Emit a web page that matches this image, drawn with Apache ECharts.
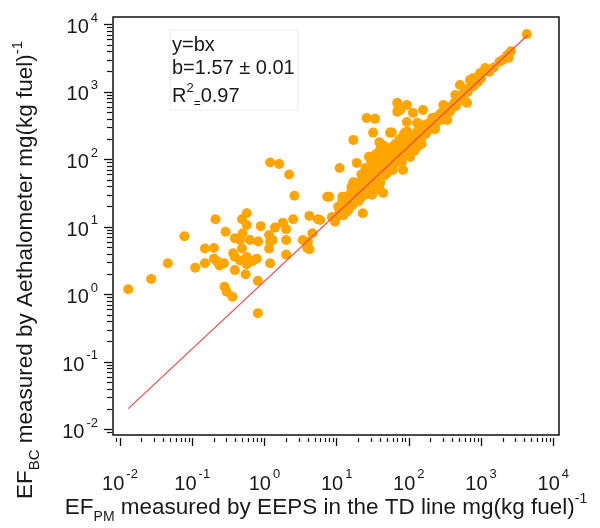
<!DOCTYPE html>
<html><head><meta charset="utf-8">
<script src="https://cdn.jsdelivr.net/npm/echarts@6/dist/echarts.min.js"></script>
<style>html,body{margin:0;padding:0;background:#fff}#c{width:600px;height:528px}</style>
</head><body><div id="c"></div>
<script>
// ---- axis tick labels (decades) ----
const xTickValues = [0.01, 0.1, 1, 10, 100, 1000, 10000];
const yTickValues = [0.01, 0.1, 1, 10, 100, 1000, 10000];
const xRange = [0.0080, 12000];
const yRange = [0.0083, 12900];

// ---- fit line y = b x ----
const fitX = [0.013, 4400];
const fitY = [0.0204, 6908];

// ---- EF_PM (x) vs EF_BC (y) points ----
const pointsLowRange = [
  [0.013,1.2],[0.027,1.7],[0.046,2.9],[0.078,7.3],[0.11,2.5],[0.15,4.8],[0.2,4.9],[0.15,2.9],[0.2,3.4],
  [0.21,13],[0.29,8.5],[0.275,2.9],[0.22,3.1],[0.28,1.3],[0.30,1.1],[0.36,0.93],[0.39,6.8],[0.37,4.1],
  [0.39,2.3],[0.46,3.2],[0.49,4.8],[0.50,8.1],[0.49,13],[0.57,16],[0.57,10.7],[0.55,2.0],[0.57,3.6],
  [0.63,6.4],[0.67,3.1],[0.78,3.4],[0.82,6.1],[0.89,10.3],[0.81,1.6],[0.81,0.53],[1.16,7.6],[1.2,6.1],
  [1.16,4.8],[1.2,2.9],[1.3,6.4],[1.4,9.8],[1.8,11.4],[2.0,9.3],[2.0,6.4],[2.0,3.9],[2.5,13],[2.6,29],
  [2.2,60],[1.6,86],[1.2,90],[0.24,2.7],[0.46,6.4],[0.39,3.6],[0.57,2.8]
];
const pointsMidRange = [
  [1.8,11.5],[4.2,14.6],[5.5,13],[7.4,28],[7.9,28],[4.6,8.1],[4.0,6.0],[4.2,4.7],[8.6,14],[11,16],
  [12,21],[14,17],[14,27],[23,16],[16,39],[19,45],[31,30],[40,35],[44,32],
  [26,410],[34,400],[17,195],[32,250],[55,250],[39,180],[43,138],[19,89],[11,75],[69,690],[69,510],
  [55,138],[29,63],[36,50],[17,46],[72,620],[94,640],[76,540],[114,490],[157,540],[210,410],[94,360],
  [130,350],[58,250],[88,250],[300,640],[370,510],[510,1270],[700,1500],[880,1670],[550,760],[640,690],
  [440,900],[1140,2270],[970,1910],[340,385],[216,300],
  [4300,7200],[2300,3500],[2000,3000],[2400,3200],[1200,2100],[770,1600],
  [76,153],[60,109],[104,109],[130,153],[50,63],[83,70],[26,63],[32,42],[12,25],[15,23],[5.9,12.7],
  [8.9,14],[12,18],[3.4,6.4],[3.9,4.9]
];
const pointsCoreBand = [
  [10,14],[10.5,20],[11,17],[9.5,12],[12,19],[12.5,15],[13,22],[12,28],
  [14,20],[15,25],[14.5,18],[15,30],[17,24],[17,33],[18,28],[16.5,21],
  [20,30],[20,38],[21,26],[19,34],[22,45],[24,35],[24,42],[25,30],[23,50],[26,38],
  [28,40],[28,52],[29,35],[30,47],[27,60],[33,48],[33,60],[34,42],[35,55],[32,70],[34,80],
  [38,55],[38,68],[40,50],[39,62],[37,90],[40,75],[44,65],[44,78],[46,58],[45,90],[43,110],[47,70],
  [50,75],[50,90],[52,68],[51,100],[49,130],[53,85],[55,80],[58,90],[58,105],[60,80],[59,120],[57,150],[62,95],
  [66,100],[66,120],[68,92],[67,140],[65,170],[70,110],[75,115],[75,135],[78,105],[77,160],[80,125],[74,200],
  [85,130],[86,155],[88,120],[87,180],[90,140],[84,230],[97,150],[98,175],[100,135],[99,200],[102,160],[95,260],
  [110,170],[110,200],[113,155],[112,230],[116,185],[125,195],[126,225],[128,180],[130,260],[132,205],
  [145,225],[146,260],[150,210],[148,290],[152,240],[165,255],[168,300],[172,240],[170,330],
  [190,300],[192,340],[196,280],[200,360],[220,340],[225,390],[230,320],[235,420],
  [260,400],[265,450],[270,380],[275,480],[300,470],[310,520],[320,440],[330,560],
  [360,560],[370,600],[380,540],[420,650],[430,700],[450,620],[500,780],[520,820],[540,900],
  [600,950],[650,1000],[620,1100],[750,1200],[800,1250],[900,1400],[1000,1600],
  [1300,2000],[1500,2300],[1800,2800],[2600,4000],
  [40,45],[60,70],[100,120],[150,170],[30,35],[20,24],[80,90],[230,280],[120,135],
  [22,60],[25,75],[30,95],[35,120],[28,110],[40,140],[45,160]
];

const FONT = '"Liberation Sans", Arial, Helvetica, sans-serif';
const TXT = '#1a1a1a';

function minorTicks(majors, range) {
  const out = [];
  for (const d of majors) for (let m = 2; m <= 9; m++) {
    const v = d * m;
    if (v > range[0] && v < range[1]) out.push(v);
  }
  return out;
}
function expLabel(v) { return '{b|10}{s|' + Math.round(Math.log10(v)) + '}'; }
const labelRich = {
  b: { fontSize: 20, fontFamily: FONT, color: TXT, lineHeight: 26, verticalAlign: 'bottom' },
  s: { fontSize: 13, fontFamily: FONT, color: TXT, lineHeight: 26, verticalAlign: 'top', padding: [0, 0, 0, 2] }
};

const chart = echarts.init(document.getElementById('c'), null, { renderer: 'canvas' });
const allPoints = pointsLowRange.concat(pointsMidRange, pointsCoreBand);

chart.setOption({
  animation: false,
  backgroundColor: '#fff',
  grid: { left: 113, right: 41, top: 17, bottom: 93, show: true, borderColor: '#111', borderWidth: 1.5, outerBoundsMode: 'none' },
  xAxis: [
    { type: 'log', min: xRange[0], max: xRange[1], position: 'bottom', offset: 3,
      axisLine: { show: false }, splitLine: { show: false },
      axisTick: { show: true, length: 8, inside: false, customValues: xTickValues, lineStyle: { color: '#111', width: 1.3 } },
      axisLabel: { show: true, customValues: xTickValues, margin: 30, formatter: expLabel, rich: labelRich, showMinLabel: true, showMaxLabel: true } },
    { type: 'log', min: xRange[0], max: xRange[1], position: 'bottom', offset: 3,
      axisLine: { show: false }, splitLine: { show: false }, axisLabel: { show: false },
      axisTick: { show: true, length: 4, inside: false, customValues: minorTicks(xTickValues.concat([0.001]), xRange), lineStyle: { color: '#111', width: 1.2 } } }
  ],
  yAxis: [
    { type: 'log', min: yRange[0], max: yRange[1], position: 'left', offset: 1,
      axisLine: { show: false }, splitLine: { show: false },
      axisTick: { show: true, length: 8, inside: false, customValues: yTickValues, lineStyle: { color: '#111', width: 1.3 } },
      axisLabel: { show: true, customValues: yTickValues, margin: 14, formatter: expLabel, rich: labelRich, showMinLabel: true, showMaxLabel: true } },
    { type: 'log', min: yRange[0], max: yRange[1], position: 'left', offset: 1,
      axisLine: { show: false }, splitLine: { show: false }, axisLabel: { show: false },
      axisTick: { show: true, length: 5, inside: false, customValues: minorTicks(yTickValues.concat([0.001]), yRange), lineStyle: { color: '#111', width: 1.2 } } }
  ],
  series: [
    { type: 'scatter', xAxisIndex: 0, yAxisIndex: 0, data: allPoints, symbolSize: 10,
      itemStyle: { color: '#FFA500', opacity: 1 }, z: 2 },
    { type: 'line', xAxisIndex: 0, yAxisIndex: 0, data: fitX.map((x, i) => [x, fitY[i]]),
      showSymbol: false, symbol: 'none', lineStyle: { color: '#f24848', width: 1.2 }, z: 3 }
  ],
  graphic: [
    { type: 'rect', shape: { x: 170, y: 30, width: 128, height: 80 }, style: { fill: 'none', stroke: '#ececec', lineWidth: 1 }, z: 1 },
    { type: 'text', x: 172, y: 45, style: { text: 'y=bx', fontSize: 20, fontFamily: FONT, fill: TXT, verticalAlign: 'middle', align: 'left' } },
    { type: 'text', x: 172, y: 68, style: { text: 'b=1.57 ± 0.01', fontSize: 20, fontFamily: FONT, fill: TXT, verticalAlign: 'middle', align: 'left' } },
    { type: 'text', x: 172, y: 96, style: { text: 'R{s|2}{e|=}0.97', fontSize: 20, fontFamily: FONT, fill: TXT, verticalAlign: 'middle', align: 'left',
        rich: { s: { fontSize: 13, fontFamily: FONT, fill: TXT, verticalAlign: 'top', lineHeight: 28 }, e: { fontSize: 12, fontFamily: FONT, fill: TXT, verticalAlign: 'bottom', lineHeight: 26 } } } },
    { type: 'text', x: 326, y: 508, style: { text: 'EF{sub|PM} measured by EEPS in the TD line mg(kg fuel){sup|-1}', fontSize: 22.5, fontFamily: FONT, fill: TXT, align: 'center', verticalAlign: 'middle',
        rich: { sub: { fontSize: 14, fontFamily: FONT, fill: TXT, verticalAlign: 'bottom', lineHeight: 32 }, sup: { fontSize: 14, fontFamily: FONT, fill: TXT, verticalAlign: 'top', lineHeight: 32 } } } },
    { type: 'text', x: 26, y: 270, rotation: Math.PI / 2, style: { text: 'EF{sub|BC} measured by Aethalometer mg(kg fuel){sup|-1}', fontSize: 22.5, fontFamily: FONT, fill: TXT, align: 'center', verticalAlign: 'middle',
        rich: { sub: { fontSize: 15, fontFamily: FONT, fill: TXT, verticalAlign: 'bottom', lineHeight: 32 }, sup: { fontSize: 15, fontFamily: FONT, fill: TXT, verticalAlign: 'top', lineHeight: 32 } } } }
  ]
});
</script></body></html>
